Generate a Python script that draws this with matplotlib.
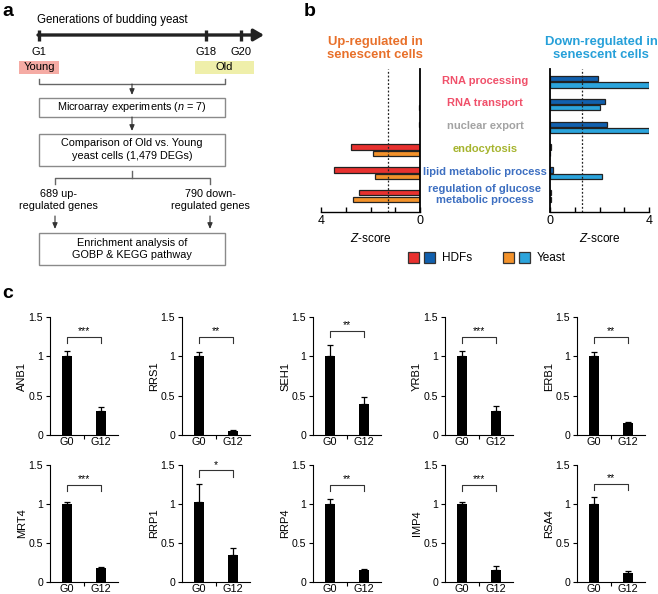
import matplotlib.pyplot as plt
from matplotlib.patches import Rectangle, Patch
from matplotlib.legend_handler import HandlerTuple
from matplotlib.transforms import blended_transform_factory

plt.rcParams['font.family'] = ['Liberation Sans', 'DejaVu Sans']
plt.rcParams['mathtext.fontset'] = 'custom'
plt.rcParams['mathtext.rm'] = 'Liberation Sans'
plt.rcParams['mathtext.it'] = 'Liberation Sans:italic'

W, H = 658, 594

# ---- panel b data (Z-scores) ----
terms = ['RNA processing', 'RNA transport', 'nuclear export', 'endocytosis',
         'lipid metabolic process', 'regulation of glucose\nmetabolic process']
term_colors = ['#F0506A', '#F0506A', '#A3A3A3', '#A6B42E', '#3D6FC1', '#3D6FC1']
up_hdf = [0, 0, 0.03, 2.79, 3.49, 2.48]
up_yeast = [0, 0.03, 0, 1.9, 1.8, 2.7]
down_hdf = [1.93, 2.22, 2.32, 0.05, 0.13, 0.03]
down_yeast = [4.0, 2.02, 4.0, 0, 2.1, 0.03]
z_cut = 1.3

# ---- panel c data (relative expression) ----
genes = ['ANB1', 'RRS1', 'SEH1', 'YRB1', 'ERB1',
         'MRT4', 'RRP1', 'RRP4', 'IMP4', 'RSA4']
g0_mean = [1.0, 1.0, 1.0, 1.0, 1.0, 1.0, 1.02, 1.0, 1.0, 1.0]
g0_err = [0.07, 0.06, 0.15, 0.07, 0.06, 0.03, 0.24, 0.06, 0.03, 0.09]
g12_mean = [0.30, 0.05, 0.40, 0.30, 0.15, 0.18, 0.34, 0.16, 0.16, 0.11]
g12_err = [0.06, 0.01, 0.08, 0.07, 0.01, 0.01, 0.10, 0.01, 0.04, 0.03]
stars = ['***', '**', '**', '***', '**', '***', '*', '**', '***', '**']
groups = ['G0', 'G12']

RED, DBLUE, ORANGE, LBLUE = '#E8312F', '#1160AE', '#F3922B', '#2BA4DC'

fig = plt.figure(figsize=(W / 100, H / 100), dpi=100)


def px_axes(x0, y0, x1, y1):
    return fig.add_axes([x0 / W, 1 - y1 / H, (x1 - x0) / W, (y1 - y0) / H])


# ------------------------------------------------------------------ #
# panel a: flow chart, drawn in pixel coordinates
ax0 = fig.add_axes([0, 0, 1, 1])
ax0.set_xlim(0, W)
ax0.set_ylim(H, 0)
ax0.axis('off')

fs_a = 7.8
gray = '#666666'
ax0.text(37, 20, 'Generations of budding yeast', fontsize=8.3, va='center', ha='left')
ax0.annotate('', xy=(264, 35), xytext=(38, 35),
             arrowprops=dict(arrowstyle='-|>,head_length=0.6,head_width=0.35',
                             lw=2.4, color='#222222', shrinkA=0, shrinkB=0))
for xt, lab in [(39, 'G1'), (206, 'G18'), (241, 'G20')]:
    ax0.plot([xt, xt], [30, 41], color='#222222', lw=2.4, solid_capstyle='butt')
    ax0.text(xt, 52, lab, fontsize=8, ha='center', va='center')
ax0.add_patch(Rectangle((19, 61), 40, 13, fc='#F5ABA4', ec='none'))
ax0.text(39, 67.5, 'Young', fontsize=8, ha='center', va='center')
ax0.add_patch(Rectangle((195, 61), 59, 13, fc='#EFEFAA', ec='none'))
ax0.text(224, 67.5, 'Old', fontsize=8, ha='center', va='center')


def small_arrow(x, y0, y1):
    ax0.annotate('', xy=(x, y1), xytext=(x, y0),
                 arrowprops=dict(arrowstyle='-|>,head_length=0.35,head_width=0.15',
                                 lw=0.8, color='#333333', shrinkA=0, shrinkB=0))


ax0.plot([39, 39, 225, 225], [79, 84, 84, 79], color=gray, lw=1)
small_arrow(132, 84, 95)
boxes = [(97.5, 116.5, 'Microarray experiments ($n$ = 7)'),
         (133.5, 165.5, 'Comparison of Old vs. Young\nyeast cells (1,479 DEGs)'),
         (232.5, 265, 'Enrichment analysis of\nGOBP & KEGG pathway')]
for y0, y1, txt in boxes:
    ax0.add_patch(Rectangle((39, y0), 186, y1 - y0, fc='white', ec='#8A8A8A', lw=1))
    ax0.text(132, (y0 + y1) / 2, txt, fontsize=fs_a, ha='center', va='center',
             linespacing=1.3)
small_arrow(132, 117, 131)
ax0.plot([132, 132], [171, 178], color=gray, lw=1)
ax0.plot([55, 55, 210, 210], [184, 178, 178, 184], color=gray, lw=1)
ax0.text(58, 200, '689 up-\nregulated genes', fontsize=fs_a, ha='center',
         va='center', linespacing=1.3)
ax0.text(210, 200, '790 down-\nregulated genes', fontsize=fs_a, ha='center',
         va='center', linespacing=1.3)
small_arrow(55, 216, 229)
small_arrow(210, 216, 229)

for lab, x, y in [('a', 2, 12), ('b', 304, 12), ('c', 2, 293)]:
    fig.text(x / W, 1 - y / H, lab, fontsize=14, fontweight='bold', va='center')

# ------------------------------------------------------------------ #
# panel b: Z-score bars
idx = list(range(len(terms)))
off, bh = 0.14, 0.23
ax_l = px_axes(321, 69, 420, 212)
ax_r = px_axes(550, 69, 649, 212)
for ax, hdf, yst, c1, c2 in [(ax_l, up_hdf, up_yeast, RED, ORANGE),
                             (ax_r, down_hdf, down_yeast, DBLUE, LBLUE)]:
    ax.barh([i - off for i in idx], hdf, height=bh, color=c1, ec='#222222', lw=0.9)
    ax.barh([i + off for i in idx], yst, height=bh, color=c2, ec='#222222', lw=0.9)
    ax.axvline(z_cut, color='#222222', ls=(0, (1.5, 1.5)), lw=0.9)
    ax.set_ylim(5.7, -0.56)
    ax.set_xlim(0, 4)
    ax.set_yticks([])
    ax.set_xticks([0, 1, 2, 3, 4])
    ax.set_xticklabels(['0', '', '', '', '4'])
    ax.tick_params(axis='x', direction='in', length=3.5, width=1, labelsize=9, pad=2)
    ax.set_xlabel('$Z$-score', fontsize=8.5, labelpad=4)
    ax.spines['top'].set_visible(False)
    ax.spines['bottom'].set_linewidth(1)
ax_l.invert_xaxis()
ax_l.spines['left'].set_visible(False)
ax_l.spines['right'].set_linewidth(1.3)
ax_r.spines['right'].set_visible(False)
ax_r.spines['left'].set_linewidth(1.3)

tr = blended_transform_factory(fig.transFigure, ax_l.transData)
for i, (t, c) in enumerate(zip(terms, term_colors)):
    ax_l.text(485 / W, i - 0.05, t, transform=tr, ha='center', va='center',
              color=c, fontsize=8, fontweight='bold', linespacing=1.15)

fig.text(375 / W, 1 - 48.5 / H, 'Up-regulated in\nsenescent cells', color='#E8702A',
         fontsize=9.4, fontweight='bold', ha='center', va='center', linespacing=1.05)
fig.text(601 / W, 1 - 48.5 / H, 'Down-regulated in\nsenescent cells', color='#26A0D9',
         fontsize=9.4, fontweight='bold', ha='center', va='center', linespacing=1.05)

hp = lambda c: Patch(fc=c, ec='#333333', lw=0.9)
fig.legend(handles=[(hp(RED), hp(DBLUE)), (hp(ORANGE), hp(LBLUE))],
           labels=['HDFs', 'Yeast'],
           handler_map={tuple: HandlerTuple(ndivide=None, pad=0.35)},
           ncol=2, frameon=False, loc='center', bbox_to_anchor=(487 / W, 1 - 258 / H),
           handlelength=2.3, handleheight=1.1, columnspacing=2.6, handletextpad=0.6,
           fontsize=8.5)

# ------------------------------------------------------------------ #
# panel c: qPCR bars
lefts = [50, 182, 313, 445, 577]
rows = [(317, 435), (465, 582)]
for k, g in enumerate(genes):
    top, bot = rows[k // 5]
    x0 = lefts[k % 5]
    ax = px_axes(x0, top, x0 + 68, bot)
    means = [g0_mean[k], g12_mean[k]]
    errs = [g0_err[k], g12_err[k]]
    ax.bar([0, 1], means, width=0.31, color='black')
    ax.errorbar([0, 1], means, yerr=[[0, 0], errs], fmt='none', ecolor='black',
                elinewidth=0.9, capsize=2, capthick=0.9)
    yb = max(1.25, max(m + e for m, e in zip(means, errs)) + 0.17)
    ax.plot([0, 0, 1, 1], [yb - 0.08, yb, yb, yb - 0.08], color='#333333', lw=0.8)
    ax.text(0.5, yb + 0.01, stars[k], ha='center', va='bottom', fontsize=7.5)
    ax.set_xlim(-0.5, 1.5)
    ax.set_ylim(0, 1.5)
    ax.set_yticks([0, 0.5, 1, 1.5])
    ax.set_yticklabels(['0', '0.5', '1', '1.5'])
    ax.set_xticks([0, 1])
    ax.set_xticklabels(groups)
    ax.set_xticks([0.5], minor=True)
    ax.tick_params(axis='x', which='major', length=0, labelsize=7.8, pad=1.5)
    ax.tick_params(axis='x', which='minor', length=3, width=0.8)
    ax.tick_params(axis='y', length=3, width=0.8, labelsize=7.6, pad=2)
    ax.set_ylabel(g, fontsize=8, labelpad=1)
    for s in ['top', 'right']:
        ax.spines[s].set_visible(False)
    for s in ['left', 'bottom']:
        ax.spines[s].set_linewidth(0.8)

fig.savefig('out.png', dpi=100)
